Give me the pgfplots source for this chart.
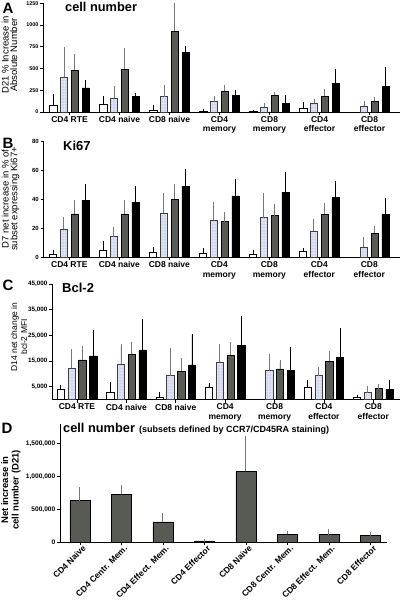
\documentclass[border=0pt]{standalone}
\usepackage{pgfplots}
\pgfplotsset{compat=1.18}
\usetikzlibrary{patterns}
\usepackage{fontspec}
\setmainfont{Liberation Sans}
\definecolor{gbar}{RGB}{88,90,84}
\definecolor{dbar}{RGB}{222,226,245}
\definecolor{ebar}{RGB}{120,120,120}
\definecolor{dotc}{RGB}{140,150,190}
\newcommand{\fs}[2]{\fontsize{#1}{#2}\selectfont}
\pgfplotsset{
  eb/.style={error bars/y dir=plus, error bars/y explicit,
    error bars/error bar style={line width=0.9pt,#1},
    error bars/error mark options={line width=0.9pt,mark size=1.7pt,#1}},
  wbar/.style={draw=black, fill=white, line width=0.6pt, eb=black},
  dbar/.style={draw=black!75, fill=dbar, line width=0.6pt, postaction={pattern=dots, pattern color=dotc}, eb=ebar},
  gbar/.style={draw=black, fill=gbar, line width=0.6pt, eb=ebar},
  kbar/.style={draw=black, fill=black, line width=0.6pt, eb=black},
  panel/.style={
    scale only axis,
    axis x line*=bottom, axis y line*=left,
    axis line style={line width=0.9pt},
    every tick/.style={line width=0.8pt, black},
    tick align=outside,
    major tick length=3pt,
    ymin=0, scaled y ticks=false,
    ybar=3.5pt, bar width=7.3pt,
    xtick={0,...,6},
    xticklabels={CD4 RTE,CD4 naive,CD8 naive,{CD4\\memory},{CD8\\memory},{CD4\\effector},{CD8\\effector}},
    xticklabel style={align=center, font=\bfseries\fs{8.5}{9.8}, inner sep=1pt},
    yticklabel style={inner sep=1.5pt},
    clip=false,
  },
}
\begin{document}
\begin{tikzpicture}
\useasboundingbox (0pt,0pt) rectangle (400pt,603pt);
% ---------------- A ----------------
\begin{axis}[panel, at={(43pt,491pt)}, anchor=south west, width=357pt, height=108.7pt,
  xmin=-0.53, xmax=6.61, ymax=1250, ytick={0,250,500,750,1000,1250},
  yticklabels={0,250,500,750,1000,1250},
  yticklabel style={font=\bfseries\fs{5.4}{6}}]
\addplot[wbar] coordinates {(0,77) +- (0,107) (1,88) +- (0,77) (2,23) +- (0,38) (3,12) +- (0,0) (4,8) +- (0,0) (5,38) +- (0,54)};
\addplot[dbar] coordinates {(0,398) +- (0,333) (1,157) +- (0,123) (2,176) +- (0,115) (3,119) +- (0,49) (4,58) +- (0,26) (5,100) +- (0,30) (6,65) +- (0,38)};
\addplot[gbar] coordinates {(0,482) +- (0,165) (1,494) +- (0,222) (2,931) +- (0,306) (3,241) +- (0,54) (4,191) +- (0,20) (5,180) +- (0,65) (6,123) +- (0,26)};
\addplot[kbar] coordinates {(0,276) +- (0,72) (1,176) +- (0,27) (2,689) +- (0,54) (3,195) +- (0,39) (4,100) +- (0,76) (5,333) +- (0,142) (6,291) +- (0,211)};
\end{axis}
% ---------------- B ----------------
\begin{axis}[panel, at={(43.5pt,345.7pt)}, anchor=south west, width=356.5pt, height=116.3pt,
  xmin=-0.516, xmax=6.614, ymax=80, ytick={0,20,40,60,80},
  yticklabels={0,20,40,60,80},
  yticklabel style={font=\bfseries\fs{6}{7}}]
\addplot[wbar] coordinates {(0,1.8) +- (0,1.9) (1,5) +- (0,5) (2,3.2) +- (0,3) (3,3) +- (0,2) (4,1.8) +- (0,2.1) (5,4.1) +- (0,0.9)};
\addplot[dbar] coordinates {(0,19.3) +- (0,7.3) (1,14.2) +- (0,5.3) (2,30.2) +- (0,12.8) (3,25.7) +- (0,11) (4,27.3) +- (0,16) (5,18.1) +- (0,7.1) (6,7.1) +- (0,5.5)};
\addplot[gbar] coordinates {(0,29.8) +- (0,8.2) (1,29.8) +- (0,8.2) (2,39.9) +- (0,9.1) (3,24.5) +- (0,5.3) (4,28.6) +- (0,7.1) (5,29.6) +- (0,6.6) (6,16.5) +- (0,3.9)};
\addplot[kbar] coordinates {(0,39.4) +- (0,9.6) (1,38) +- (0,9.7) (2,49) +- (0,10.6) (3,42.2) +- (0,10.5) (4,44.9) +- (0,12.8) (5,41) +- (0,10.5) (6,29.6) +- (0,9.8)};
\end{axis}
% ---------------- C ----------------
\begin{axis}[panel, at={(52pt,203.3pt)}, anchor=south west, width=348pt, height=115.7pt,
  xmin=-0.506, xmax=6.54, ymax=45000, ytick={5000,15000,25000,35000,45000},
  yticklabels={{5,000},{15,000},{25,000},{35,000},{45,000}},
  yticklabel style={font=\bfseries\fs{6.3}{7}}]
\addplot[wbar] coordinates {(0,4200) +- (0,1000) (1,2900) +- (0,3200) (2,900) +- (0,1600) (3,4800) +- (0,1200) (5,4800) +- (0,2300) (6,1000) +- (0,300)};
\addplot[dbar] coordinates {(0,12200) +- (0,6800) (1,13800) +- (0,7200) (2,9300) +- (0,10200) (3,14500) +- (0,6600) (4,11300) +- (0,5900) (5,9400) +- (0,2600) (6,2700) +- (0,2100)};
\addplot[gbar] coordinates {(0,15500) +- (0,4700) (1,17600) +- (0,4100) (2,11100) +- (0,4300) (3,17200) +- (0,4400) (4,12000) +- (0,2900) (5,14900) +- (0,3300) (6,4300) +- (0,1300)};
\addplot[kbar] coordinates {(0,17000) +- (0,9300) (1,19400) +- (0,11500) (2,13500) +- (0,11500) (3,21000) +- (0,10800) (4,11400) +- (0,8300) (5,16300) +- (0,11100) (6,4100) +- (0,2900)};
\end{axis}
% ---------------- D ----------------
\begin{axis}[scale only axis, at={(60pt,60.7pt)}, anchor=south west, width=327pt, height=118.3pt,
  axis x line*=bottom, axis y line*=left,
  axis line style={line width=0.9pt},
  every tick/.style={line width=0.8pt, black},
  tick align=outside, major tick length=3pt,
  xmin=-0.48, xmax=7.4, ymin=0, ymax=1800000, scaled y ticks=false,
  ytick={0,500000,1000000,1500000},
  yticklabels={0,{500,000},{1,000,000},{1,500,000}},
  yticklabel style={font=\bfseries\fs{6.6}{7.5}, inner sep=1.5pt},
  xtick={0,...,7},
  xticklabels={CD4 Naive,CD4 Centr. Mem.,CD4 Effect. Mem.,CD4 Effector,CD8 Naive,CD8 Centr. Mem.,CD8 Effect. Mem.,CD8 Effector},
  xticklabel style={rotate=45, anchor=north east, font=\bfseries\fs{8.5}{9}, inner sep=1pt, xshift=3pt},
  ybar, bar width=20pt, clip=false]
\addplot[gbar] coordinates {(0,636000) +- (0,173000) (1,733000) +- (0,117000) (2,310000) +- (0,117000) (3,20000) +- (0,5000) (4,1078000) +- (0,514000) (5,122000) +- (0,31000) (6,117000) +- (0,56000) (7,102000) +- (0,35000)};
\end{axis}
% ---------------- letters, titles, y labels ----------------
\node[font=\bfseries\fs{15}{15}] at (8pt,595pt) {A};
\node[font=\bfseries\fs{15}{15}] at (8pt,460pt) {B};
\node[font=\bfseries\fs{15}{15}] at (8pt,318pt) {C};
\node[font=\bfseries\fs{15}{15}] at (7pt,175pt) {D};
\node[anchor=base west, inner sep=0pt, font=\bfseries\fs{12.8}{13}] at (65pt,591pt) {cell number};
\node[anchor=base west, inner sep=0pt, font=\bfseries\fs{13}{13}] at (63pt,452pt) {Ki67};
\node[anchor=base west, inner sep=0pt, font=\bfseries\fs{13}{13}] at (62pt,310pt) {Bcl-2};
\node[anchor=base west, inner sep=0pt, font=\bfseries\fs{12.8}{13}] at (63pt,170pt) {cell number\hspace{4pt}{\fs{9}{9}(subsets defined by CCR7/CD45RA staining)}};
\node[rotate=90, align=center, font=\fs{9.5}{8.6}] at (9.5pt,548pt) {D21 \% Increase in\\Absolute Number};
\node[rotate=90, align=center, font=\fs{9.5}{8.6}] at (10.5pt,404pt) {D7 net increase in \% of\\subset expressing Ki67+};
\node[rotate=90, align=center, font=\fs{8.5}{10}] at (19pt,266pt) {D14 net change in\\bcl-2 MFI};
\node[rotate=90, align=center, font=\bfseries\fs{9.5}{10.5}] at (11pt,113pt) {Net increase in\\cell number (D21)};
\end{tikzpicture}
\end{document}
